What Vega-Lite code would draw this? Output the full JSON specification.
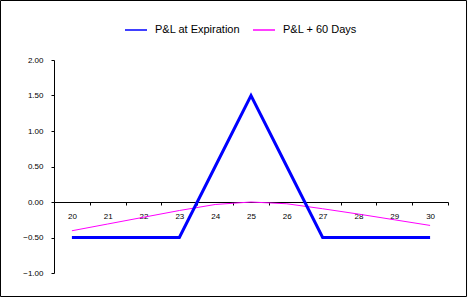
{
  "$schema": "https://vega.github.io/schema/vega-lite/v6.json",
  "width": 394,
  "height": 213,
  "autosize": {"type": "none"},
  "padding": {"left": 54, "top": 60, "right": 20, "bottom": 27},
  "background": "white",
  "config": {
    "view": {"stroke": null},
    "font": "Liberation Sans",
    "axis": {"labelFont": "Liberation Sans", "labelFontSize": 8, "labelColor": "black", "domainColor": "black", "tickColor": "black", "grid": false, "title": null, "labelOverlap": false, "labelBound": false, "labelFlush": false, "tickSize": 3}
  },
  "data": {
    "values": [
      {"price": 20, "series": "P&L at Expiration", "pl": -0.5},
      {"price": 21, "series": "P&L at Expiration", "pl": -0.5},
      {"price": 22, "series": "P&L at Expiration", "pl": -0.5},
      {"price": 23, "series": "P&L at Expiration", "pl": -0.5},
      {"price": 24, "series": "P&L at Expiration", "pl": 0.5},
      {"price": 25, "series": "P&L at Expiration", "pl": 1.5},
      {"price": 26, "series": "P&L at Expiration", "pl": 0.5},
      {"price": 27, "series": "P&L at Expiration", "pl": -0.5},
      {"price": 28, "series": "P&L at Expiration", "pl": -0.5},
      {"price": 29, "series": "P&L at Expiration", "pl": -0.5},
      {"price": 30, "series": "P&L at Expiration", "pl": -0.5},
      {"price": 20, "series": "P&L + 60 Days", "pl": -0.405},
      {"price": 21, "series": "P&L + 60 Days", "pl": -0.31},
      {"price": 22, "series": "P&L + 60 Days", "pl": -0.215},
      {"price": 23, "series": "P&L + 60 Days", "pl": -0.12},
      {"price": 24, "series": "P&L + 60 Days", "pl": -0.035},
      {"price": 25, "series": "P&L + 60 Days", "pl": 0.0},
      {"price": 26, "series": "P&L + 60 Days", "pl": -0.025},
      {"price": 27, "series": "P&L + 60 Days", "pl": -0.095},
      {"price": 28, "series": "P&L + 60 Days", "pl": -0.17},
      {"price": 29, "series": "P&L + 60 Days", "pl": -0.25},
      {"price": 30, "series": "P&L + 60 Days", "pl": -0.33}
    ]
  },
  "layer": [
    {
      "data": {"values": [{}]},
      "mark": {"type": "rect", "fill": null, "stroke": "black", "strokeWidth": 1, "clip": false},
      "encoding": {
        "x": {"datum": 18.006, "type": "quantitative",
          "scale": {"domain": [19.5, 30.5], "nice": false, "zero": false},
          "axis": {
            "orient": "bottom", "offset": -71,
            "values": [19.5, 20.5, 21.5, 22.5, 23.5, 24.5, 25.5, 26.5, 27.5, 28.5, 29.5, 30.5],
            "labelExpr": "datum.value < 30 ? format(datum.value + 0.5, 'd') : ''",
            "labelOffset": 17.9, "labelPadding": 7
          }
        },
        "x2": {"datum": 31.017},
        "y": {"datum": 2.838, "type": "quantitative",
          "scale": {"domain": [-1, 2], "nice": false, "zero": false},
          "axis": {"values": [-1, -0.5, 0, 0.5, 1, 1.5, 2], "format": ".2f", "labelPadding": 8}
        },
        "y2": {"datum": -1.331}
      }
    },
    {
      "transform": [{"filter": "datum.series === 'P&L + 60 Days'"}],
      "mark": {"type": "line", "clip": false, "strokeWidth": 1},
      "encoding": {
        "x": {"field": "price", "type": "quantitative",
          "axis": {
            "orient": "bottom", "offset": -71,
            "values": [19.5, 20.5, 21.5, 22.5, 23.5, 24.5, 25.5, 26.5, 27.5, 28.5, 29.5, 30.5],
            "labelExpr": "datum.value < 30 ? format(datum.value + 0.5, 'd') : ''",
            "labelOffset": 17.9, "labelPadding": 7
          }
        },
        "y": {"field": "pl", "type": "quantitative",
          "axis": {"values": [-1, -0.5, 0, 0.5, 1, 1.5, 2], "format": ".2f", "labelPadding": 8}
        },
        "color": {
          "field": "series", "type": "nominal",
          "scale": {"domain": ["P&L at Expiration", "P&L + 60 Days"], "range": ["#0000FF", "#FF00FF"]},
          "legend": {
            "title": null, "orient": "none", "direction": "horizontal",
            "legendX": 70, "legendY": -42, "padding": 0,
            "symbolType": "stroke", "symbolSize": 484, "symbolStrokeWidth": 1.5,
            "labelFont": "Liberation Sans", "labelFontSize": 11, "labelColor": "black",
            "labelOffset": 7, "columnPadding": 10
          }
        }
      }
    },
    {
      "transform": [{"filter": "datum.series === 'P&L at Expiration'"}],
      "mark": {"type": "line", "clip": false, "strokeWidth": 3},
      "encoding": {
        "x": {"field": "price", "type": "quantitative",
          "axis": {
            "orient": "bottom", "offset": -71,
            "values": [19.5, 20.5, 21.5, 22.5, 23.5, 24.5, 25.5, 26.5, 27.5, 28.5, 29.5, 30.5],
            "labelExpr": "datum.value < 30 ? format(datum.value + 0.5, 'd') : ''",
            "labelOffset": 17.9, "labelPadding": 7
          }
        },
        "y": {"field": "pl", "type": "quantitative",
          "axis": {"values": [-1, -0.5, 0, 0.5, 1, 1.5, 2], "format": ".2f", "labelPadding": 8}
        },
        "color": {
          "field": "series", "type": "nominal",
          "scale": {"domain": ["P&L at Expiration", "P&L + 60 Days"], "range": ["#0000FF", "#FF00FF"]},
          "legend": {
            "title": null, "orient": "none", "direction": "horizontal",
            "legendX": 70, "legendY": -42, "padding": 0,
            "symbolType": "stroke", "symbolSize": 484, "symbolStrokeWidth": 1.5,
            "labelFont": "Liberation Sans", "labelFontSize": 11, "labelColor": "black",
            "labelOffset": 7, "columnPadding": 10
          }
        }
      }
    }
  ]
}
